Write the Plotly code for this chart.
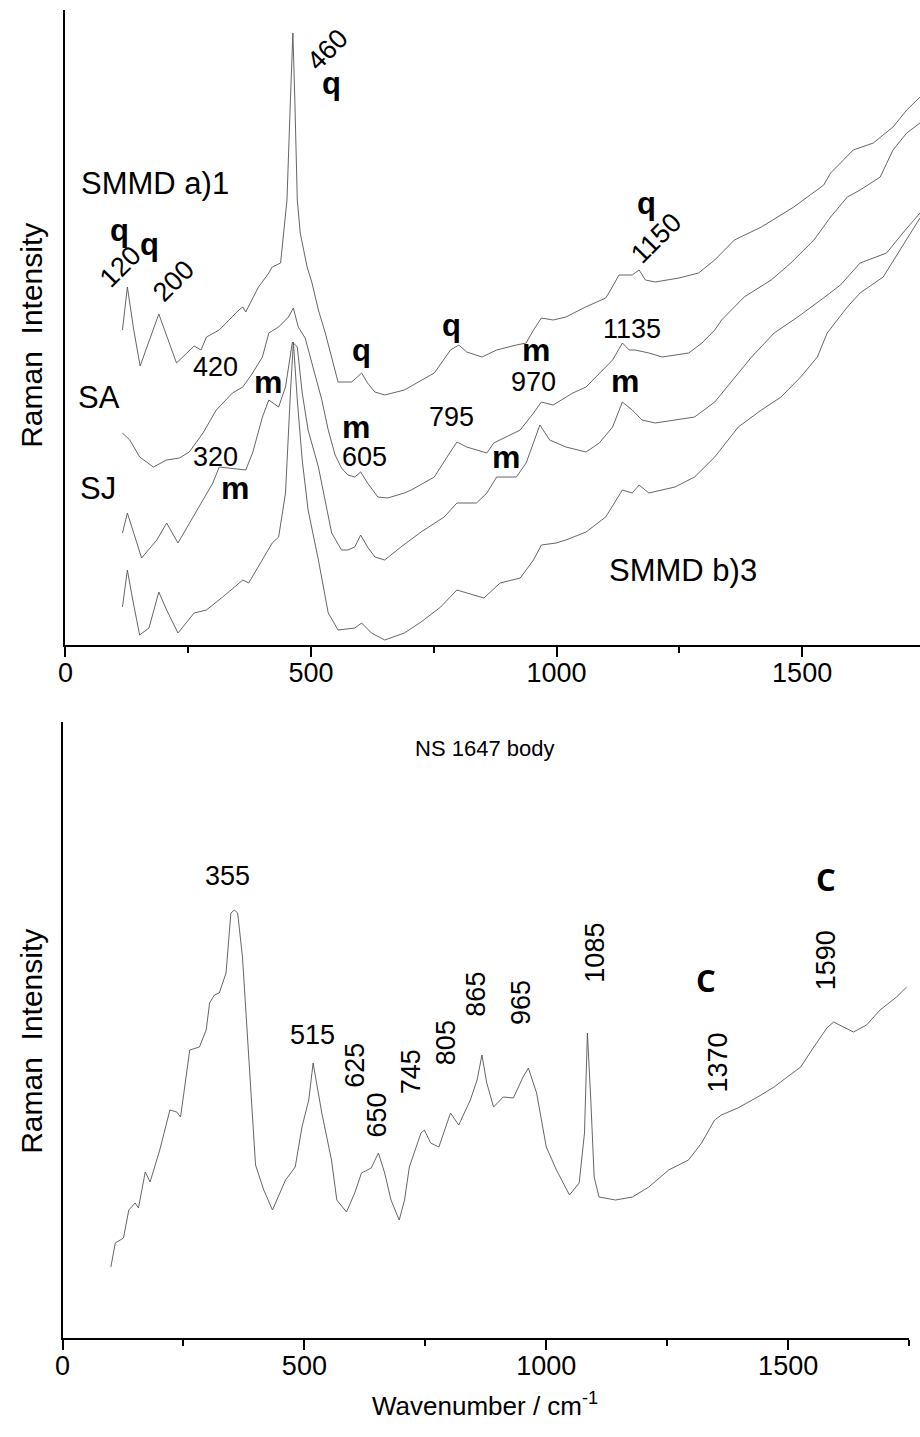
import plotly.graph_objects as go

# ---------------- data (wavenumber / cm-1, intensity in arbitrary units) ----------------
# Top panel traces
smmd_a1_wn = [116,126,139,152,190,226,262,276,287,313,353,361,367,393,414,421,438,451,458,463,467,472,478,492,502,515,529,549,555,583,603,615,630,650,690,751,784,801,817,848,878,918,938,953,969,993,1019,1059,1100,1110,1127,1154,1168,1181,1201,1249,1289,1322,1362,1417,1457,1483,1544,1558,1604,1645,1685,1713,1740]
smmd_a1_int = [315,358,315,279,331,282,299,295,308,315,335,338,333,358,372,378,382,445,545,612,545,445,412,378,362,335,312,272,263,263,272,262,253,250,255,272,295,300,293,288,295,300,302,315,327,325,328,338,347,355,370,370,375,365,363,367,372,385,405,418,430,438,460,472,495,502,518,535,548]

sa_wn = [116,131,151,179,206,232,252,280,307,340,361,381,401,414,434,454,464,474,488,502,522,535,549,562,575,589,601,615,636,656,690,704,751,777,797,817,858,872,898,926,953,969,993,1033,1060,1087,1114,1127,1134,1148,1160,1188,1215,1269,1296,1322,1336,1382,1437,1477,1524,1558,1592,1618,1659,1685,1713,1740]
sa_int = [212,205,188,178,185,187,193,212,235,252,258,272,288,312,318,328,337,318,307,282,245,215,190,177,170,168,173,162,148,147,152,155,168,188,203,198,192,202,208,215,232,243,240,252,258,272,285,296,302,295,295,292,288,292,302,315,325,348,365,382,405,428,448,455,468,495,512,522]

sj_wn = [116,126,137,155,186,206,229,260,287,300,313,337,367,381,401,414,434,448,456,462,472,482,494,515,542,562,575,589,601,615,630,650,683,724,771,797,837,858,878,918,938,966,986,1019,1060,1087,1114,1134,1154,1174,1201,1281,1322,1370,1397,1443,1491,1538,1578,1618,1672,1705,1740]
sj_int = [112,132,115,87,105,122,102,128,152,162,178,177,175,192,228,245,238,258,285,303,298,252,215,178,112,95,95,98,110,98,88,85,98,113,128,142,142,152,168,168,182,220,205,198,193,202,218,243,235,225,222,228,243,272,288,312,328,345,360,382,392,412,432]

smmd_b3_wn = [116,126,137,151,170,190,206,229,262,287,320,353,361,373,401,421,434,448,458,464,472,482,494,515,535,555,589,603,623,650,690,724,764,797,852,885,926,953,969,999,1019,1060,1100,1134,1154,1168,1188,1241,1281,1322,1370,1417,1457,1497,1531,1551,1592,1618,1665,1699,1740]
smmd_b3_int = [38,75,45,10,17,53,35,12,32,35,48,62,65,62,85,102,108,152,252,303,245,185,135,85,32,15,17,22,12,5,12,23,38,55,47,62,67,85,100,102,105,113,128,155,152,160,152,158,168,188,218,235,248,268,288,312,338,352,368,395,427]

# Bottom panel trace (NS 1647 body)
ns_wn = [100,109,126,137,150,157,171,181,201,222,236,244,263,283,297,304,314,324,338,348,355,362,372,379,389,399,416,434,461,481,495,509,518,536,556,567,587,604,618,638,653,666,679,696,707,717,741,748,761,778,802,819,843,857,867,877,891,911,932,952,963,980,1000,1021,1048,1068,1079,1085,1092,1099,1109,1143,1178,1212,1253,1294,1321,1348,1362,1396,1437,1471,1498,1526,1553,1580,1594,1614,1635,1662,1690,1724,1745]
ns_int = [71,95,100,128,135,130,166,156,188,228,226,221,288,291,308,335,343,345,365,425,428,425,381,325,248,173,148,128,158,171,211,238,275,225,178,138,126,145,165,170,185,165,138,118,138,171,205,208,195,191,225,213,238,258,283,255,231,241,240,261,270,245,191,168,143,155,205,305,238,161,141,138,141,151,168,178,195,218,223,230,241,251,261,271,291,310,316,311,306,313,328,341,351]

tick_vals = [0, 500, 1000, 1500]
tick_text = ["0", "500", "1000", "1500"]

# Top panel labels: (text, wavenumber, intensity, angle, kind)
top_labels = [
    ("SMMD a)1", 183, 462, 0, "name"),
    ("460", 533, 595, -45, "num"),
    ("q", 541, 562, 0, "q"),
    ("q", 109, 415, 0, "q"),
    ("q", 172, 401, 0, "q"),
    ("120", 111, 378, -45, "num"),
    ("200", 220, 364, -45, "num"),
    ("q", 603, 295, 0, "q"),
    ("q", 785, 320, 0, "q"),
    ("q", 1183, 442, 0, "q"),
    ("1150", 1203, 407, -45, "num"),
    ("1135", 1154, 316, 0, "num"),
    ("m", 959, 295, 0, "m"),
    ("420", 305, 278, 0, "num"),
    ("m", 412, 263, 0, "m"),
    ("SA", 69, 248, 0, "name"),
    ("m", 591, 218, 0, "m"),
    ("605", 609, 188, 0, "num"),
    ("320", 305, 188, 0, "num"),
    ("m", 345, 157, 0, "m"),
    ("SJ", 67, 157, 0, "name"),
    ("795", 785, 228, 0, "num"),
    ("970", 952, 263, 0, "num"),
    ("m", 1140, 264, 0, "m"),
    ("m", 896, 188, 0, "m"),
    ("SMMD b)3", 1257, 75, 0, "name"),
]

bottom_labels = [
    ("NS 1647 body", 872, 590, 0, "title"),
    ("355", 342, 462, 0, "num"),
    ("515", 516, 303, 0, "num"),
    ("625", 604, 273, -90, "num"),
    ("650", 651, 223, -90, "num"),
    ("745", 721, 266, -90, "num"),
    ("805", 793, 295, -90, "num"),
    ("865", 854, 344, -90, "num"),
    ("965", 948, 335, -90, "num"),
    ("1085", 1100, 385, -90, "num"),
    ("C", 1331, 358, 0, "c"),
    ("C", 1579, 459, 0, "c"),
    ("1370", 1356, 276, -90, "num"),
    ("1590", 1579, 378, -90, "num"),
]

# ---------------- figure ----------------
line_style = dict(color="#555555", width=0.9)
fig = go.Figure()
for wn, inten in [(smmd_a1_wn, smmd_a1_int), (sa_wn, sa_int), (sj_wn, sj_int), (smmd_b3_wn, smmd_b3_int)]:
    fig.add_trace(go.Scatter(x=wn, y=inten, mode="lines", line=line_style,
                             xaxis="x", yaxis="y", showlegend=False, hoverinfo="skip"))
fig.add_trace(go.Scatter(x=ns_wn, y=ns_int, mode="lines", line=line_style,
                         xaxis="x2", yaxis="y2", showlegend=False, hoverinfo="skip"))

FONT = "Liberation Sans, Arial, sans-serif"
styles = {
    "name": dict(family=FONT, size=31, color="black"),
    "num": dict(family=FONT, size=27, color="black"),
    "q": dict(family=FONT, size=31, color="black", weight="bold"),
    "m": dict(family=FONT, size=32, color="black", weight="bold"),
    "c": dict(family="Open Sans, sans-serif", size=31, color="black", weight="bold"),
    "title": dict(family=FONT, size=22, color="black"),
}

annotations = []
for (txt, xv, yv, ang, kind), (xr, yr) in [(l, ("x", "y")) for l in top_labels] + [(l, ("x2", "y2")) for l in bottom_labels]:
    annotations.append(dict(text=txt, x=xv, y=yv, xref=xr, yref=yr, showarrow=False,
                            textangle=ang, xanchor="center", yanchor="middle",
                            font=styles[kind]))

# axis titles
annotations.append(dict(text="Raman  Intensity", x=23/920, y=1-335/1437, xref="paper", yref="paper",
                        showarrow=False, textangle=-90, xanchor="center", yanchor="middle",
                        font=dict(family=FONT, size=30, color="black")))
annotations.append(dict(text="Raman  Intensity", x=23/920, y=1-1041/1437, xref="paper", yref="paper",
                        showarrow=False, textangle=-90, xanchor="center", yanchor="middle",
                        font=dict(family=FONT, size=30, color="black")))
annotations.append(dict(text="Wavenumber / cm<sup>-1</sup>", x=481/920, y=1-1404/1437, xref="paper", yref="paper",
                        showarrow=False, xanchor="center", yanchor="middle",
                        font=dict(family=FONT, size=26, color="black")))

xaxis_common = dict(showline=True, linecolor="black", linewidth=2, showgrid=False, zeroline=False,
                    ticks="outside", ticklen=10, tickwidth=1.5, tickcolor="black",
                    tickvals=tick_vals, ticktext=tick_text, ticklabelstandoff=-7,
                    tickfont=dict(family=FONT, size=27, color="black"),
                    minor=dict(ticks="outside", ticklen=6, tickwidth=1.5, tickcolor="black", dtick=250, tick0=0, showgrid=False))
yaxis_common = dict(showline=True, linecolor="black", linewidth=2, showgrid=False, zeroline=False,
                    showticklabels=False, ticks="")

fig.update_layout(
    width=920, height=1437,
    margin=dict(l=0, r=0, t=0, b=0),
    paper_bgcolor="white", plot_bgcolor="white",
    xaxis=dict(domain=[58/920, 1.0], range=[0, 1740], anchor="y", **xaxis_common),
    yaxis=dict(domain=[1-645/1437, 1-10/1437], range=[0, 635], anchor="x", **yaxis_common),
    xaxis2=dict(domain=[55/920, 909/920], range=[0, 1750], anchor="y2", **xaxis_common),
    yaxis2=dict(domain=[1-1338/1437, 1-722/1437], range=[0, 616], anchor="x2", **yaxis_common),
    annotations=annotations,
    showlegend=False,
)

fig.write_html("out.html")
